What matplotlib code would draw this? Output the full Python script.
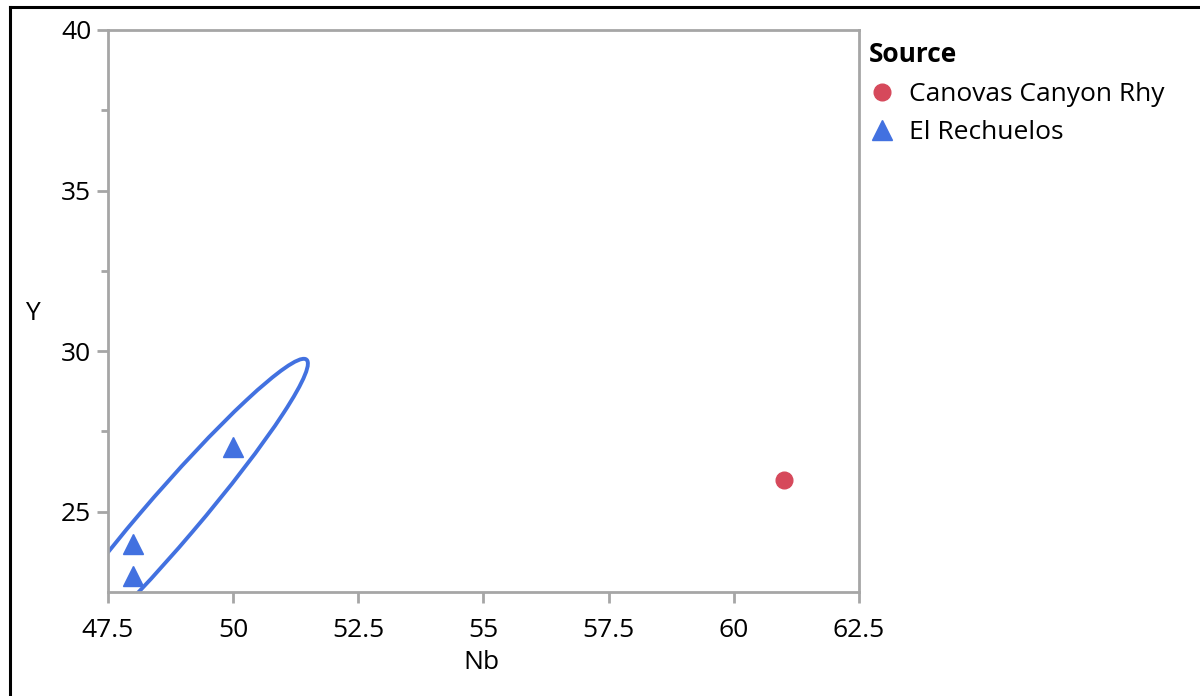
import numpy as np
import matplotlib
matplotlib.use("Agg")
import matplotlib.pyplot as plt
from matplotlib.patches import Ellipse
from matplotlib.lines import Line2D

plt.rcParams['font.family'] = ['Open Sans', 'DejaVu Sans']

# Data
canovas_nb = [61]
canovas_y = [26]
rech_nb = [48, 48, 50]
rech_y = [24, 23, 27]
xticks = [47.5, 50, 52.5, 55, 57.5, 60, 62.5]
xtick_labels = ['47.5', '50', '52.5', '55', '57.5', '60', '62.5']
yticks = [25, 30, 35, 40]
yminor = [27.5, 32.5, 37.5]

red = '#D6495B'
blue = '#4271E0'
grey = '#A6A6A6'
FS = 19

fig = plt.figure(figsize=(12, 6.96), dpi=100)
ax = fig.add_axes([0.09, 0.1494, 0.6258, 0.8075])

ax.plot(canovas_nb, canovas_y, 'o', color=red, markersize=12, zorder=3)
ax.plot(rech_nb, rech_y, '^', color=blue, markersize=14, zorder=3)

# 95% density ellipse for El Rechuelos
pts = np.vstack([rech_nb, rech_y])
mean = pts.mean(axis=1)
cov = np.cov(pts)
vals, vecs = np.linalg.eigh(cov)
order = vals.argsort()[::-1]
vals, vecs = vals[order], vecs[:, order]
k = np.sqrt(5.991)
angle = np.degrees(np.arctan2(vecs[1, 0], vecs[0, 0]))
ell = Ellipse(mean, 2 * k * np.sqrt(vals[0]), 2 * k * np.sqrt(vals[1]),
              angle=angle, fill=False, edgecolor=blue, linewidth=2.8, zorder=2)
ax.add_patch(ell)

ax.set_xlim(47.5, 62.5)
ax.set_ylim(22.5, 40)
ax.set_xticks(xticks)
ax.set_xticklabels(xtick_labels)
ax.set_yticks(yticks)
ax.set_yticks(yminor, minor=True)
ax.tick_params(axis='both', which='major', length=8, width=2, color=grey,
               labelsize=FS)
ax.tick_params(axis='x', which='major', pad=11)
ax.tick_params(axis='y', which='major', pad=4)
ax.tick_params(axis='y', which='minor', length=5, width=2, color=grey)
for s in ax.spines.values():
    s.set_color(grey)
    s.set_linewidth(2)

ax.set_xlabel('Nb', fontsize=FS)
ax.xaxis.set_label_coords(0.497, -0.104)
ax.set_ylabel('Y', fontsize=FS, rotation=0, va='center', ha='center')
ax.yaxis.set_label_coords(-0.101, 0.496)

handles = [Line2D([], [], marker='o', color=red, linestyle='None', markersize=12),
           Line2D([], [], marker='^', color=blue, linestyle='None', markersize=14)]
leg = fig.legend(handles, ['Canovas Canyon Rhy', 'El Rechuelos'], title='Source',
                 loc='upper left', bbox_to_anchor=(0.7243, 0.941), frameon=False,
                 fontsize=FS, title_fontproperties={'weight': 'bold', 'size': FS},
                 handletextpad=0.5, labelspacing=0.5, handlelength=1.0,
                 borderaxespad=0, borderpad=0)
leg._legend_box.align = 'left'
leg._legend_box.sep = 10

# figure border (left & top)
fig.add_artist(Line2D([10 / 1200, 10 / 1200], [0, 1 - 7 / 696], color='black',
                      linewidth=2.2, transform=fig.transFigure))
fig.add_artist(Line2D([10 / 1200, 1], [1 - 7 / 696, 1 - 7 / 696], color='black',
                      linewidth=2.2, transform=fig.transFigure))

fig.savefig('out.png', dpi=100)
